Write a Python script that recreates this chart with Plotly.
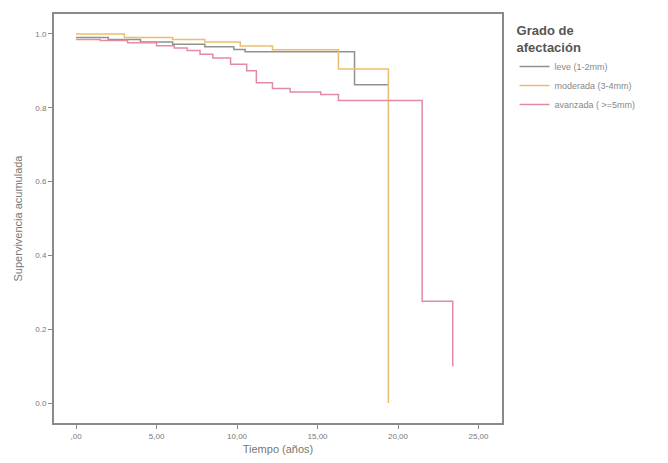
import plotly.graph_objects as go

# Kaplan-Meier step data
leve_t = [0.0, 2.0, 4.0, 6.0, 8.0, 9.8, 10.5, 17.3, 19.4]
leve_s = [0.99, 0.985, 0.978, 0.972, 0.965, 0.958, 0.952, 0.862, 0.862]

moderada_t = [0.0, 3.0, 6.0, 8.0, 10.2, 12.2, 16.3, 19.4, 19.4]
moderada_s = [1.0, 0.99, 0.985, 0.978, 0.967, 0.957, 0.905, 0.905, 0.0]

avanzada_t = [0.0, 1.5, 3.2, 5.0, 6.1, 6.9, 7.7, 8.5, 9.6, 10.6, 11.2, 12.2,
              13.3, 15.2, 16.3, 21.5, 23.4, 23.4]
avanzada_s = [0.985, 0.982, 0.976, 0.968, 0.962, 0.955, 0.945, 0.935, 0.918,
              0.900, 0.868, 0.852, 0.843, 0.836, 0.820, 0.276, 0.276, 0.10]

x_ticks = [0, 5, 10, 15, 20, 25]
x_labels = [",00", "5,00", "10,00", "15,00", "20,00", "25,00"]
y_ticks = [0.0, 0.2, 0.4, 0.6, 0.8, 1.0]
y_labels = ["0.0", "0.2", "0.4", "0.6", "0.8", "1.0"]

fig = go.Figure()
fig.add_trace(go.Scatter(x=leve_t, y=leve_s, mode="lines", line_shape="hv",
                         name="leve (1-2mm)", line=dict(color="#8f948a", width=1.5)))
fig.add_trace(go.Scatter(x=moderada_t, y=moderada_s, mode="lines", line_shape="hv",
                         name="moderada (3-4mm)", line=dict(color="#ebbd6e", width=1.5)))
fig.add_trace(go.Scatter(x=avanzada_t, y=avanzada_s, mode="lines", line_shape="hv",
                         name="avanzada ( >=5mm)", line=dict(color="#e48aa2", width=1.5)))

axis_common = dict(showgrid=False, zeroline=False, showline=True, mirror=True,
                   linecolor="#8a8a8a", linewidth=2, ticks="outside", ticklen=4,
                   tickcolor="#8a8a8a", automargin=False,
                   tickfont=dict(family="Arial", size=8, color="#777777"))

fig.update_layout(
    width=668, height=463,
    margin=dict(l=46, r=174, t=6, b=48),
    paper_bgcolor="white", plot_bgcolor="white",
    font=dict(family="Arial", color="#777777"),
    xaxis=dict(range=[-1.37, 26.46], tickvals=x_ticks, ticktext=x_labels,
               title=dict(text="Tiempo (años)", font=dict(size=11, color="#777777"), standoff=6),
               **axis_common),
    yaxis=dict(range=[-0.054, 1.054], tickvals=y_ticks, ticktext=y_labels,
               title=dict(text="Supervivencia acumulada", font=dict(size=11, color="#777777"), standoff=10),
               **axis_common),
    legend=dict(x=1.028, y=0.99, xanchor="left", yanchor="top",
                title=dict(text="<b>Grado de<br>afectación</b>",
                           font=dict(family="Arial", size=13, color="#555555")),
                font=dict(family="Arial", size=9, color="#888888"),
                itemwidth=30, tracegroupgap=0, bgcolor="rgba(0,0,0,0)"),
    showlegend=True,
)

fig.write_html("out.html")
